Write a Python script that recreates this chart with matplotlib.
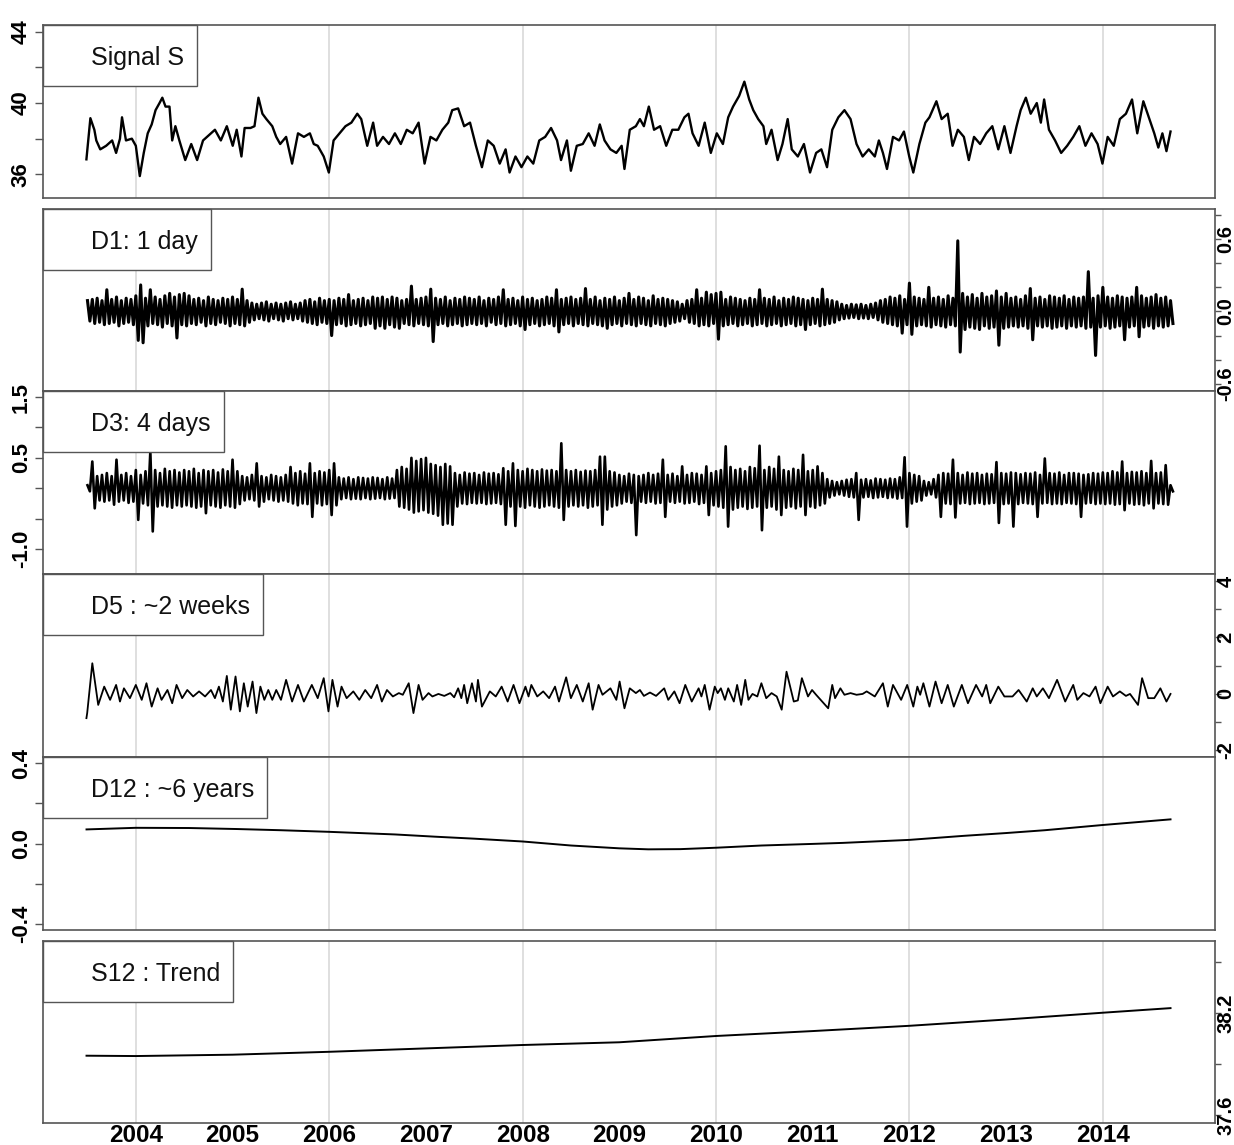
import numpy as np
import matplotlib
matplotlib.use('Agg')
import matplotlib.pyplot as plt
from matplotlib.patches import Rectangle

plt.rcParams['font.family'] = ['Liberation Sans', 'DejaVu Sans']

# ---------------- data ----------------
panel_names = ["Signal S", "D1: 1 day", "D3: 4 days", "D5 : ~2 weeks", "D12 : ~6 years", "S12 : Trend"]
year_labels = [2004, 2005, 2006, 2007, 2008, 2009, 2010, 2011, 2012, 2013, 2014]
grid_years = [2004, 2006, 2008, 2010, 2012, 2014]

s_year = [2003.489, 2003.530, 2003.571, 2003.591, 2003.632, 2003.693, 2003.755, 2003.796, 2003.836, 2003.857,
          2003.898, 2003.959, 2004.000, 2004.041, 2004.082, 2004.123, 2004.164, 2004.204, 2004.245, 2004.274,
          2004.307, 2004.348, 2004.376, 2004.409, 2004.450, 2004.511, 2004.573, 2004.634, 2004.695, 2004.757,
          2004.818, 2004.879, 2004.941, 2005.002, 2005.043, 2005.092, 2005.125, 2005.186, 2005.227, 2005.268,
          2005.309, 2005.350, 2005.411, 2005.452, 2005.493, 2005.554, 2005.616, 2005.677, 2005.738, 2005.800,
          2005.840, 2005.881, 2005.943, 2005.996, 2006.045, 2006.106, 2006.168, 2006.229, 2006.290, 2006.331,
          2006.393, 2006.454, 2006.495, 2006.556, 2006.618, 2006.679, 2006.740, 2006.802, 2006.863, 2006.924,
          2006.986, 2007.047, 2007.108, 2007.170, 2007.231, 2007.272, 2007.333, 2007.395, 2007.456, 2007.517,
          2007.579, 2007.640, 2007.701, 2007.763, 2007.824, 2007.865, 2007.926, 2007.988, 2008.049, 2008.110,
          2008.172, 2008.233, 2008.294, 2008.356, 2008.397, 2008.458, 2008.499, 2008.560, 2008.622, 2008.683,
          2008.744, 2008.798, 2008.847, 2008.908, 2008.969,
          2009.024, 2009.053, 2009.108, 2009.171, 2009.213, 2009.254, 2009.305, 2009.359, 2009.422, 2009.485,
          2009.548, 2009.610, 2009.673, 2009.715, 2009.757, 2009.820, 2009.883, 2009.946, 2010.008, 2010.071,
          2010.126, 2010.176, 2010.239, 2010.293, 2010.343, 2010.385, 2010.436, 2010.490, 2010.519, 2010.574,
          2010.637, 2010.687, 2010.741, 2010.783, 2010.846, 2010.909, 2010.972, 2011.035, 2011.089, 2011.148,
          2011.202, 2011.265, 2011.328, 2011.391, 2011.453, 2011.516, 2011.579, 2011.642, 2011.684, 2011.726,
          2011.768, 2011.830, 2011.893, 2011.943, 2011.998, 2012.040, 2012.103, 2012.165, 2012.207, 2012.279,
          2012.333, 2012.396, 2012.446, 2012.501, 2012.563, 2012.614, 2012.668, 2012.731, 2012.794, 2012.857,
          2012.919, 2012.982, 2013.045, 2013.108, 2013.150, 2013.204, 2013.254, 2013.317, 2013.359, 2013.393,
          2013.443, 2013.506, 2013.569, 2013.631, 2013.694, 2013.757, 2013.820, 2013.883, 2013.946, 2013.996,
          2014.050, 2014.113, 2014.176, 2014.239, 2014.302, 2014.356, 2014.419, 2014.482, 2014.532, 2014.574,
          2014.616, 2014.658, 2014.700]
s_val = [36.84, 39.15, 38.5, 37.9, 37.4, 37.6, 37.9, 37.2, 38.0, 39.2,
         37.9, 38.0, 37.6, 35.9, 37.2, 38.3, 38.8, 39.6, 40.0, 40.3,
         39.8, 39.8, 37.9, 38.7, 37.9, 36.8, 37.7, 36.8, 37.9, 38.2,
         38.5, 37.9, 38.7, 37.6, 38.5, 37.0, 38.6, 38.6, 38.7, 40.3,
         39.4, 39.1, 38.7, 38.1, 37.7, 38.1, 36.6, 38.3, 38.1, 38.3,
         37.7, 37.6, 37.0, 36.1, 37.9, 38.3, 38.7, 38.9, 39.4, 39.1,
         37.6, 38.9, 37.6, 38.1, 37.7, 38.3, 37.7, 38.5, 38.3, 38.9,
         36.6, 38.1, 37.9, 38.5, 38.9, 39.6, 39.7, 38.7, 38.9, 37.6,
         36.4, 37.9, 37.6, 36.6, 37.4, 36.1, 37.0, 36.4, 37.0, 36.6,
         37.9, 38.1, 38.6, 37.9, 36.8, 37.9, 36.2, 37.6, 37.7, 38.3,
         37.6, 38.8, 37.9, 37.4, 37.2,
         37.6, 36.3, 38.5, 38.7, 39.1, 38.7, 39.8, 38.5, 38.7, 37.6,
         38.5, 38.5, 39.2, 39.4, 38.3, 37.6, 38.9, 37.2, 38.3, 37.7,
         39.2, 39.8, 40.4, 41.2, 40.2, 39.6, 39.1, 38.7, 37.7, 38.5,
         36.8, 37.7, 39.1, 37.4, 37.0, 37.7, 36.1, 37.2, 37.4, 36.4,
         38.5, 39.2, 39.6, 39.1, 37.7, 37.0, 37.4, 37.0, 37.9, 37.2,
         36.3, 38.1, 37.9, 38.4, 37.0, 36.1, 37.7, 38.9, 39.2, 40.1,
         39.1, 39.4, 37.6, 38.5, 38.1, 36.8, 38.1, 37.7, 38.3, 38.7,
         37.4, 38.7, 37.2, 38.7, 39.6, 40.3, 39.4, 40.0, 38.9, 40.2,
         38.5, 37.9, 37.2, 37.6, 38.1, 38.7, 37.6, 38.3, 37.7, 36.6,
         38.1, 37.6, 39.1, 39.4, 40.2, 38.3, 40.1, 39.1, 38.3, 37.5,
         38.3, 37.3, 38.4]

# D1 and D3: upper / lower excursions in consecutive 0.05-year windows starting 2003.50
d_start = 2003.50
d_step = 0.05
d1_hi = [.09, .10, .11, .09, .18, .10, .12, .09, .11, .10, .13, .22, .11, .18, .12, .10, .13, .15, .12, .14,
         .15, .13, .10, .11, .09, .12, .10, .09, .11, .10, .12, .10, .185, .09, .07, .06, .07, .08, .06, .07,
         .06, .07, .08, .06, .07, .09, .10, .08, .11, .09, .10, .09, .11, .10, .14, .09, .10, .11, .09, .12,
         .11, .12, .10, .12, .11, .09, .10, .21, .10, .11, .12, .185, .11, .10, .12, .09, .11, .10, .12, .11,
         .10, .12, .09, .11, .10, .12, .18, .10, .11, .09, .12, .10, .11, .09, .10, .12, .11, .18, .10, .11,
         .12, .10, .11, .19, .10, .12, .09, .11, .10, .12, .09, .11, .15, .10, .12, .11, .09, .13, .10, .11,
         .10, .09, .08, .06, .09, .10, .18, .11, .16, .14, .15, .16, .10, .12, .11, .10, .09, .11, .10, .18,
         .11, .10, .12, .09, .11, .10, .12, .11, .10, .09, .11, .10, .185, .10, .09, .08, .06, .05, .06, .055,
         .06, .05, .06, .07, .09, .10, .12, .11, .13, .10, .235, .12, .11, .10, .20, .11, .12, .10, .13, .11,
         .586, .15, .12, .14, .11, .15, .12, .13, .17, .12, .15, .11, .12, .10, .13, .19, .11, .12, .10, .13,
         .12, .11, .13, .10, .12, .11, .12, .33, .11, .13, .20, .12, .11, .13, .12, .11, .12, .20, .13, .11,
         .12, .14, .11, .12, .09]
d1_lo = [-.08, -.10, -.09, -.11, -.10, -.09, -.12, -.10, -.09, -.11, -.24, -.26, -.12, -.10, -.11, -.13, -.10, -.12, -.22, -.11,
         -.12, -.10, -.11, -.09, -.12, -.10, -.11, -.09, -.10, -.12, -.10, -.11, -.12, -.09, -.07, -.06, -.07, -.08, -.06, -.07,
         -.08, -.06, -.07, -.06, -.08, -.09, -.10, -.11, -.09, -.10, -.20, -.11, -.10, -.12, -.11, -.10, -.12, -.11, -.10, -.14,
         -.12, -.14, -.11, -.13, -.14, -.10, -.11, -.12, -.10, -.11, -.12, -.25, -.11, -.10, -.12, -.11, -.10, -.12, -.11, -.10,
         -.11, -.10, -.12, -.09, -.11, -.10, -.12, -.11, -.10, -.12, -.15, -.11, -.10, -.12, -.11, -.10, -.12, -.17, -.11, -.10,
         -.12, -.10, -.11, -.12, -.10, -.11, -.12, -.14, -.11, -.10, -.12, -.10, -.11, -.12, -.10, -.11, -.12, -.10, -.11, -.12,
         -.10, -.09, -.08, -.06, -.09, -.10, -.12, -.11, -.12, -.10, -.23, -.12, -.11, -.10, -.12, -.11, -.10, -.12, -.11, -.10,
         -.12, -.11, -.10, -.12, -.11, -.10, -.12, -.11, -.15, -.11, -.10, -.12, -.11, -.10, -.09, -.07, -.06, -.055, -.05, -.06,
         -.055, -.06, -.05, -.07, -.09, -.10, -.11, -.12, -.18, -.11, -.19, -.12, -.11, -.12, -.13, -.11, -.12, -.13, -.11, -.12,
         -.337, -.15, -.13, -.14, -.15, -.12, -.14, -.13, -.28, -.14, -.13, -.12, -.13, -.12, -.14, -.235, -.12, -.13, -.12, -.14,
         -.13, -.12, -.14, -.12, -.13, -.12, -.14, -.13, -.365, -.13, -.12, -.14, -.13, -.12, -.235, -.13, -.12, -.21, -.13, -.12,
         -.14, -.12, -.13, -.12, -.10]

d3_hi = [.05, .44, .20, .22, .25, .20, .47, .22, .25, .20, .30, .22, .28, .60, .30, .25, .32, .28, .30, .26,
         .30, .28, .32, .25, .30, .28, .30, .26, .31, .28, .47, .28, .20, .18, .22, .41, .20, .18, .22, .20,
         .18, .22, .35, .25, .28, .24, .41, .25, .28, .26, .30, .41, .18, .16, .18, .15, .18, .17, .16, .18,
         .17, .15, .18, .16, .30, .35, .32, .50, .45, .48, .50, .40, .38, .35, .40, .36, .25, .22, .26, .24,
         .25, .22, .26, .24, .25, .23, .33, .28, .41, .30, .28, .32, .30, .28, .31, .29, .30, .28, .74, .30,
         .28, .30, .27, .29, .28, .30, .52, .52, .28, .26, .22, .20, .24, .22, .20, .22, .25, .22, .24, .47,
         .22, .24, .20, .36, .22, .25, .24, .22, .36, .25, .28, .30, .69, .35, .30, .32, .28, .35, .33, .70,
         .30, .35, .32, .52, .30, .28, .32, .30, .55, .28, .30, .36, .25, .15, .12, .10, .12, .14, .15, .25,
         .14, .15, .13, .16, .15, .14, .16, .15, .18, .51, .25, .22, .20, .12, .10, .15, .22, .25, .24, .47,
         .25, .22, .26, .24, .25, .22, .24, .23, .43, .25, .24, .26, .25, .23, .25, .24, .26, .22, .49, .25,
         .24, .26, .22, .25, .25, .24, .22, .23, .25, .24, .26, .25, .28, .26, .44, .25, .27, .26, .28, .25,
         .45, .25, .26, .38, .05]
d3_lo = [-.05, -.33, -.20, -.22, -.20, -.27, -.22, -.20, -.24, -.22, -.52, -.25, -.28, -.71, -.30, -.28, -.30, -.32, -.28, -.30,
         -.28, -.30, -.32, -.30, -.41, -.28, -.30, -.32, -.28, -.30, -.32, -.26, -.20, -.18, -.20, -.30, -.22, -.18, -.20, -.22,
         -.20, -.22, -.25, -.28, -.25, -.26, -.47, -.25, -.28, -.26, -.44, -.28, -.18, -.16, -.18, -.17, -.18, -.16, -.18, -.17,
         -.16, -.18, -.17, -.16, -.30, -.32, -.35, -.40, -.38, -.36, -.40, -.42, -.45, -.60, -.58, -.60, -.30, -.25, -.26, -.24,
         -.25, -.24, -.26, -.25, -.24, -.26, -.60, -.30, -.62, -.30, -.32, -.28, -.30, -.32, -.30, -.28, -.30, -.32, -.52, -.30,
         -.28, -.30, -.28, -.32, -.30, -.28, -.60, -.35, -.30, -.28, -.25, -.22, -.24, -.77, -.22, -.24, -.22, -.25, -.24, -.47,
         -.22, -.24, -.22, -.25, -.24, -.22, -.26, -.24, -.44, -.28, -.30, -.32, -.63, -.35, -.32, -.30, -.34, -.32, -.30, -.69,
         -.32, -.30, -.35, -.44, -.32, -.30, -.33, -.30, -.44, -.30, -.32, -.28, -.25, -.15, -.12, -.10, -.12, -.14, -.15, -.52,
         -.15, -.14, -.16, -.15, -.14, -.16, -.15, -.17, -.16, -.63, -.25, -.22, -.20, -.12, -.10, -.15, -.47, -.25, -.26, -.48,
         -.25, -.24, -.26, -.25, -.24, -.26, -.25, -.24, -.57, -.26, -.25, -.63, -.26, -.24, -.25, -.26, -.47, -.25, -.24, -.26,
         -.25, -.26, -.24, -.25, -.26, -.47, -.25, -.24, -.26, -.25, -.26, -.25, -.27, -.26, -.36, -.25, -.27, -.26, -.28, -.25,
         -.33, -.25, -.26, -.27, -.05]

d5_year = [2003.489, 2003.497, 2003.550, 2003.611, 2003.673, 2003.734, 2003.796, 2003.836, 2003.877, 2003.939,
           2004.000, 2004.061, 2004.110, 2004.164, 2004.225, 2004.266, 2004.327, 2004.376, 2004.421, 2004.479,
           2004.532, 2004.593, 2004.654, 2004.716, 2004.777, 2004.818, 2004.859, 2004.900, 2004.941, 2004.982,
           2005.031, 2005.076, 2005.117, 2005.157, 2005.207, 2005.247, 2005.288, 2005.329, 2005.370, 2005.411,
           2005.452, 2005.501, 2005.554, 2005.616, 2005.677, 2005.738, 2005.820, 2005.881, 2005.943, 2005.992,
           2006.033, 2006.086, 2006.127, 2006.180, 2006.249, 2006.311, 2006.372, 2006.434, 2006.495, 2006.544,
           2006.597, 2006.658, 2006.720, 2006.761, 2006.822, 2006.871, 2006.924, 2006.965, 2007.027, 2007.067,
           2007.129, 2007.190, 2007.252, 2007.292, 2007.333, 2007.366, 2007.395, 2007.427, 2007.476, 2007.517,
           2007.538, 2007.579, 2007.661, 2007.722, 2007.783, 2007.845, 2007.906, 2007.967, 2008.029, 2008.061,
           2008.090, 2008.151, 2008.213, 2008.274, 2008.335, 2008.376, 2008.450, 2008.499, 2008.560, 2008.622,
           2008.683, 2008.724, 2008.785, 2008.826, 2008.908, 2008.969,
           2009.003, 2009.053, 2009.108, 2009.171, 2009.213, 2009.254, 2009.317, 2009.380, 2009.464, 2009.506,
           2009.569, 2009.623, 2009.682, 2009.749, 2009.820, 2009.849, 2009.883, 2009.933, 2009.987, 2010.017,
           2010.050, 2010.092, 2010.126, 2010.184, 2010.218, 2010.260, 2010.302, 2010.335, 2010.377, 2010.427,
           2010.469, 2010.519, 2010.574, 2010.628, 2010.679, 2010.729, 2010.804, 2010.846, 2010.888, 2010.951,
           2010.993, 2011.035, 2011.160, 2011.202, 2011.231, 2011.286, 2011.328, 2011.391, 2011.453, 2011.516,
           2011.558, 2011.642, 2011.726, 2011.776, 2011.830, 2011.914, 2011.977, 2012.040, 2012.082, 2012.111,
           2012.144, 2012.207, 2012.270, 2012.333, 2012.396, 2012.459, 2012.542, 2012.605, 2012.689, 2012.752,
           2012.794, 2012.836, 2012.919, 2012.982, 2013.066, 2013.129, 2013.213, 2013.275, 2013.317, 2013.380,
           2013.443, 2013.527, 2013.611, 2013.694, 2013.736, 2013.799, 2013.862, 2013.925, 2013.975, 2014.050,
           2014.105, 2014.176, 2014.239, 2014.281, 2014.364, 2014.406, 2014.469, 2014.532, 2014.595, 2014.658,
           2014.700]
d5_val = [-0.87, -0.69, 1.08, -0.40, 0.25, -0.22, 0.31, -0.28, 0.19, -0.16,
          0.31, -0.22, 0.37, -0.46, 0.19, -0.22, 0.13, -0.34, 0.31, -0.16,
          0.13, -0.10, 0.08, -0.10, 0.13, -0.16, 0.25, -0.28, 0.63, -0.57,
          0.61, -0.63, 0.37, -0.46, 0.43, -0.69, 0.25, -0.22, 0.13, -0.22,
          0.13, -0.22, 0.49, -0.28, 0.31, -0.28, 0.31, -0.16, 0.55, -0.63,
          0.49, -0.46, 0.25, -0.16, 0.08, -0.22, 0.13, -0.16, 0.31, -0.28,
          0.13, -0.10, 0.02, -0.04, 0.37, -0.69, 0.31, -0.22, 0.02, -0.10,
          -0.01, -0.08, 0.02, -0.13, 0.19, -0.16, 0.31, -0.34, 0.37, -0.28,
          0.49, -0.46, 0.08, -0.10, 0.25, -0.28, 0.31, -0.34, 0.25, -0.10,
          0.31, -0.10, 0.08, -0.16, 0.25, -0.28, 0.58, -0.16, 0.31, -0.28,
          0.37, -0.57, 0.31, -0.04, 0.19, -0.22,
          0.43, -0.52, 0.19, 0.02, 0.13, -0.08, 0.04, -0.08, 0.19, -0.22,
          0.08, -0.34, 0.31, -0.28, 0.19, -0.10, 0.31, -0.57, 0.25, 0.02,
          0.19, -0.22, 0.19, -0.28, 0.31, -0.40, 0.49, -0.22, -0.01, -0.10,
          0.37, -0.16, 0.02, -0.10, -0.57, 0.78, -0.28, -0.24, 0.55, -0.10,
          0.13, -0.04, -0.52, 0.31, -0.16, 0.19, -0.04, 0.02, -0.04, -0.01,
          0.08, -0.10, 0.37, -0.46, 0.31, -0.22, 0.31, -0.46, 0.25, -0.04,
          0.37, -0.46, 0.43, -0.34, 0.31, -0.46, 0.31, -0.34, 0.31, -0.10,
          0.31, -0.34, 0.25, -0.10, -0.10, 0.13, -0.28, 0.19, -0.10, 0.19,
          -0.16, 0.49, -0.28, 0.31, -0.22, 0.02, -0.10, 0.25, -0.34, 0.25,
          -0.10, 0.08, -0.08, -0.01, -0.40, 0.55, -0.16, -0.16, 0.19, -0.28,
          -0.01]

d12_year = [2003.49, 2004.0, 2004.55, 2005.04, 2005.5, 2006.0, 2006.68, 2007.09, 2007.5, 2008.0, 2008.5,
            2009.0, 2009.3, 2009.63, 2010.0, 2010.47, 2011.0, 2011.31, 2012.0, 2012.56, 2013.0, 2013.4,
            2014.0, 2014.7]
d12_val = [0.070, 0.078, 0.077, 0.072, 0.066, 0.058, 0.045, 0.034, 0.024, 0.010, -0.010,
           -0.024, -0.029, -0.028, -0.021, -0.010, -0.002, 0.003, 0.018, 0.038, 0.052, 0.066,
           0.092, 0.120]

s12_year = [2003.49, 2004.0, 2005.0, 2006.0, 2007.0, 2008.0, 2009.0, 2010.0, 2011.0, 2012.0, 2013.0, 2014.0, 2014.7]
s12_val = [37.949, 37.947, 37.955, 37.972, 37.992, 38.012, 38.028, 38.065, 38.094, 38.125, 38.162, 38.202, 38.229]

# ---------------- layout ----------------
W, H = 1234, 1145
fig = plt.figure(figsize=(W / 100, H / 100), dpi=100)
fig.patch.set_facecolor('white')

panels = [(25, 198), (209, 391), (391, 574), (574, 757), (757, 930), (941, 1123)]
LEFT, RIGHT = 43, 1215
XLIM = (2003.04, 2015.16)
FRAME = '#555555'

axes = [fig.add_axes([LEFT / W, 1 - b / H, (RIGHT - LEFT) / W, (b - t) / H]) for t, b in panels]

specs = [
    ('left', (34.67, 44.38), [36, 38, 40, 42, 44], ['36', '', '40', '', '44']),
    ('right', (-0.66, 0.85), [-0.6, -0.4, -0.2, 0.0, 0.2, 0.4, 0.6, 0.8], ['-0.6', '', '', '0.0', '', '', '0.6', '']),
    ('left', (-1.41, 1.60), [-1.0, -0.5, 0.0, 0.5, 1.0, 1.5], ['-1.0', '', '', '0.5', '', '1.5']),
    ('right', (-2.25, 4.25), [-2, -1, 0, 1, 2, 3, 4], ['-2', '', '0', '', '2', '', '4']),
    ('left', (-0.43, 0.43), [-0.4, -0.2, 0.0, 0.2, 0.4], ['-0.4', '', '0.0', '', '0.4']),
    ('right', (37.553, 38.624), [37.6, 37.9, 38.2, 38.5], ['37.6', '', '38.2', '']),
]

for ax, (side, ylim, ticks, labels) in zip(axes, specs):
    ax.set_facecolor('white')
    ax.set_xlim(*XLIM)
    ax.set_ylim(*ylim)
    for s in ax.spines.values():
        s.set_color(FRAME)
        s.set_linewidth(1.2)
    for gy in grid_years:
        ax.axvline(gy, color='#dcdcdc', lw=1.3, zorder=0)
    ax.set_xticks(year_labels)
    ax.tick_params(axis='x', length=0, labelbottom=False)
    ax.set_yticks(ticks)
    ax.set_yticklabels(labels)
    if side == 'right':
        ax.yaxis.tick_right()
        ax.tick_params(axis='y', length=4, width=1.0, color=FRAME, pad=-3, labelsize=14.5)
    else:
        ax.tick_params(axis='y', length=6, width=1.0, color=FRAME, pad=2, labelsize=16)
    for lab in ax.get_yticklabels():
        lab.set_rotation(90)
        lab.set_va('center')
        lab.set_fontweight('bold')
        lab.set_ha('right' if side == 'left' else 'left')

# bottom x labels
axb = axes[-1]
axb.tick_params(axis='x', labelbottom=True, labelsize=17.5, pad=0.5)
axb.set_xticklabels([str(y) for y in year_labels])
for lab in axb.get_xticklabels():
    lab.set_fontweight('bold')

# ---------------- series ----------------
axes[0].plot(s_year, s_val, color='black', lw=1.7, zorder=3)


def zigzag(hi, lo):
    n = min(len(hi), len(lo))
    t = d_start + d_step * np.arange(n)
    x = np.empty(2 * n)
    y = np.empty(2 * n)
    x[0::2] = t
    x[1::2] = t + d_step / 2
    y[0::2] = hi[:n]
    y[1::2] = lo[:n]
    return x, y


x1, y1 = zigzag(d1_hi, d1_lo)
axes[1].plot(x1, y1, color='black', lw=2.2, zorder=3)
x3, y3 = zigzag(d3_hi, d3_lo)
axes[2].plot(x3, y3, color='black', lw=1.9, zorder=3)
axes[3].plot(d5_year, d5_val, color='black', lw=1.3, zorder=3)
axes[4].plot(d12_year, d12_val, color='black', lw=1.4, zorder=3)
axes[5].plot(s12_year, s12_val, color='black', lw=1.4, zorder=3)

# ---------------- label boxes ----------------
renderer = fig.canvas.get_renderer()
for (top, bottom), name in zip(panels, panel_names):
    txt = fig.text(91 / W, 1 - (top + 40) / H, name, fontsize=18, ha='left', va='baseline',
                   color='#111111', zorder=11)
    bb = txt.get_window_extent(renderer)
    right_px = bb.x1 + 13
    rect = Rectangle((LEFT / W, 1 - (top + 61) / H), (right_px - LEFT) / W, 61 / H,
                     transform=fig.transFigure, facecolor='white', edgecolor=FRAME, lw=1.0, zorder=10)
    fig.add_artist(rect)

fig.savefig('out.png', dpi=100, facecolor='white')
